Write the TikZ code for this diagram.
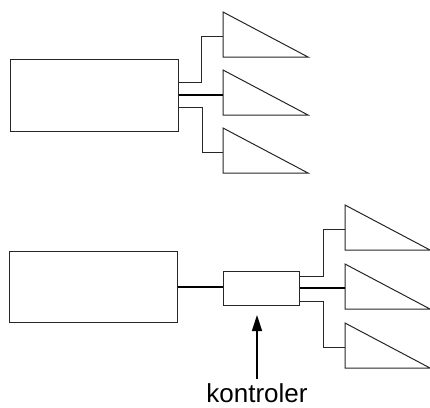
\documentclass[tikz,border=0pt]{standalone}
\usepackage{fontspec}
\setmainfont{Liberation Sans}
\usetikzlibrary{arrows.meta}
\begin{document}
\begin{tikzpicture}[x=1pt,y=-1pt,
  box/.style={draw=black!85, line width=1pt, rectangle, inner sep=0pt},
  wire/.style={draw=black!85, line width=1pt},
  bus/.style={draw=black, line width=2pt},
  horn/.style={draw=black!85, line width=1pt, line join=miter},
  pointer/.style={draw=black, line width=1.4pt, -{Triangle[length=16pt,width=10pt]}},
  speaker/.pic={
    \draw[horn] (0,0) -- (0,45) -- (85,45) -- cycle;
    \coordinate (-in) at (0,24);
  }]
\useasboundingbox (0,0) rectangle (430,407);

% --- direct wiring: amplifier straight to three loudspeakers ---
\node[box, minimum width=168pt, minimum height=72pt] (amp1) at (94,95) {};
\pic (s1) at (223,12)  {speaker};
\pic (s2) at (223,70)  {speaker};
\pic (s3) at (223,128) {speaker};
\draw[wire] ([yshift=13pt]amp1.east) -| (201,0 |- s1-in) -- (s1-in);
\draw[bus]  (amp1.east) -- (amp1.east -| s2-in);
\draw[wire] ([yshift=-12pt]amp1.east) -| (202,0 |- s3-in) -- (s3-in);

% --- wiring through a controller ---
\node[box, minimum width=168pt, minimum height=71pt] (amp2) at (93,286.5) {};
\node[box, minimum width=76pt, minimum height=34pt] (ctl) at (261,288) {};
\pic (t1) at (345,205) {speaker};
\pic (t2) at (345,264) {speaker};
\pic (t3) at (345,323) {speaker};
\draw[bus]  (amp2.east) -- (amp2.east -| ctl.west);
\draw[wire] ([yshift=12pt]ctl.east) -| (323,0 |- t1-in) -- (t1-in);
\draw[bus]  (ctl.east) -- (ctl.east -| t2-in);
\draw[wire] ([yshift=-13pt]ctl.east) -| (323,0 |- t3-in) -- (t3-in);

% --- label pointing at the controller ---
\node[anchor=base, font=\fontsize{26}{30}\selectfont, inner sep=4pt] (lbl) at (257,402) {kontroler};
\coordinate (aim) at (257,315);
\draw[pointer] (lbl.north) -- (aim);
\end{tikzpicture}
\end{document}
